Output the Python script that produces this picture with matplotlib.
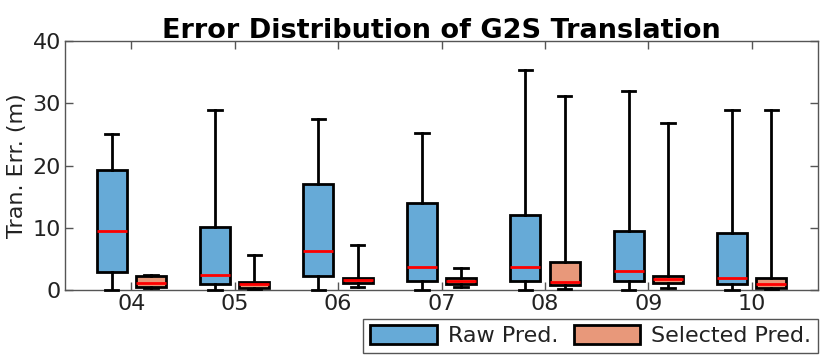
import matplotlib
matplotlib.use("Agg")
import matplotlib.pyplot as plt
from matplotlib.patches import Patch
import numpy as np

seqs = ["04", "05", "06", "07", "08", "09", "10"]

# whisker low, q1, median, q3, whisker high
raw_lo = [0.0, 0.0, 0.0, 0.0, 0.0, 0.0, 0.0]
raw_q1 = [2.9, 1.0, 2.25, 1.5, 1.4, 1.5, 1.0]
raw_med = [9.4, 2.4, 6.3, 3.7, 3.75, 3.1, 2.0]
raw_q3 = [19.3, 10.1, 17.0, 13.9, 12.0, 9.4, 9.15]
raw_hi = [25.1, 28.9, 27.4, 25.3, 35.4, 31.9, 28.9]

sel_lo = [0.3, 0.1, 0.5, 0.5, 0.15, 0.3, 0.2]
sel_q1 = [0.5, 0.4, 1.2, 1.0, 0.8, 1.1, 0.4]
sel_med = [1.1, 0.9, 1.6, 1.4, 1.3, 1.7, 1.0]
sel_q3 = [2.3, 1.3, 2.0, 2.0, 4.45, 2.3, 2.0]
sel_hi = [2.4, 5.6, 7.2, 3.6, 31.2, 26.8, 28.9]

blue = "#66aad7"
orange = "#e8987a"


def make_stats(lo, q1, med, q3, hi):
    return [dict(whislo=a, q1=b, med=c, q3=d, whishi=e, fliers=[])
            for a, b, c, d, e in zip(lo, q1, med, q3, hi)]


fig = plt.figure(figsize=(8.3, 3.6), dpi=100)
ax = fig.add_axes([65 / 830, 1 - 290 / 360, 753 / 830, 249 / 360])

pos = np.arange(1, len(seqs) + 1)
common = dict(widths=0.29, patch_artist=True, showfliers=False,
              whiskerprops=dict(color="black", linewidth=2),
              capprops=dict(color="black", linewidth=2, clip_on=False),
              medianprops=dict(color="red", linewidth=2),
              manage_ticks=False)

b1 = ax.bxp(make_stats(raw_lo, raw_q1, raw_med, raw_q3, raw_hi),
            positions=pos - 0.19, capwidths=0.13,
            boxprops=dict(facecolor=blue, edgecolor="black", linewidth=2), **common)
b2 = ax.bxp(make_stats(sel_lo, sel_q1, sel_med, sel_q3, sel_hi),
            positions=pos + 0.19, capwidths=0.13,
            boxprops=dict(facecolor=orange, edgecolor="black", linewidth=2), **common)
for c in b1["caps"] + b2["caps"]:
    c.set_zorder(3)

ax.set_xlim(0.36, 7.64)
ax.set_ylim(0, 40)
ax.set_xticks(pos)
ax.set_xticklabels(seqs)
ax.set_yticks([0, 10, 20, 30, 40])

# ticks inward on every side, like the MATLAB export
ax.tick_params(axis="both", direction="in", length=6, color="#555555",
               labelsize=16, labelcolor="#222222", width=1)
ax.tick_params(axis="x", top=True, bottom=True, pad=3)
ax.tick_params(axis="y", right=True, left=True, pad=3)
for sp in ax.spines.values():
    sp.set_color("#555555")
    sp.set_linewidth(1)

ax.set_ylabel("Tran. Err. (m)", fontsize=16, color="#222222", labelpad=4)
ax.set_title("Error Distribution of G2S Translation", fontsize=19.5,
             fontweight="bold", pad=2)

handles = [Patch(facecolor=blue, edgecolor="black", linewidth=2, label="Raw Pred."),
           Patch(facecolor=orange, edgecolor="black", linewidth=2, label="Selected Pred.")]
leg = fig.legend(handles=handles, loc="lower right", ncol=2, fontsize=16,
                 bbox_to_anchor=(818 / 830, 1 - 353 / 360), fancybox=False,
                 edgecolor="#555555", framealpha=1, handlelength=3.0,
                 handleheight=0.9, borderpad=0.3, columnspacing=0.7,
                 handletextpad=0.5, borderaxespad=0)
leg.get_frame().set_linewidth(1)
for t in leg.get_texts():
    t.set_color("#222222")

fig.savefig("out.png", dpi=100)
